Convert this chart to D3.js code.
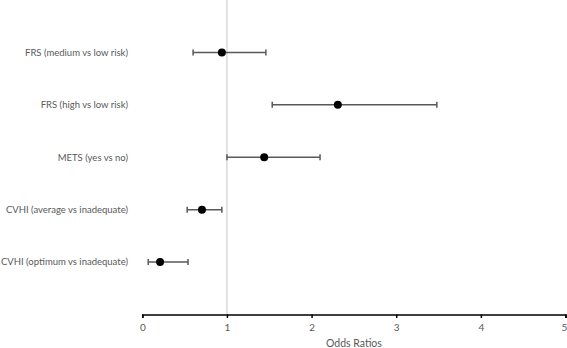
<!DOCTYPE html>
<html>
<head>
<meta charset="utf-8">
<script src="https://cdn.jsdelivr.net/npm/d3@7"></script>
<style>
  body { margin: 0; background: #fff; }
  text { font-family: Lato, "Open Sans", sans-serif; fill: #595959; }
</style>
</head>
<body>
<div id="chart"></div>
<script>
// data
const labels = ["FRS (medium vs low risk)", "FRS (high vs low risk)", "METS (yes vs no)",
                "CVHI (average vs inadequate)", "CVHI (optimum vs inadequate)"];
const oddsRatio = [0.94, 2.31, 1.44, 0.705, 0.21];
const lowerCI = [0.60, 1.535, 1.00, 0.53, 0.07];
const upperCI = [1.46, 3.48, 2.10, 0.94, 0.54];
const xTicks = [0, 1, 2, 3, 4, 5];

const width = 567, height = 348;
const margin = { top: 0, right: 1.5, bottom: 33.5, left: 142.3 };

const svg = d3.select("#chart").append("svg")
    .attr("width", width)
    .attr("height", height);

const x = d3.scaleLinear().domain([0, 5]).range([margin.left, width - margin.right]);
// rows sit at y = 5..1 on a 0..6 scale
const y = d3.scaleLinear().domain([0, 6]).range([height - margin.bottom, margin.top]);

const rows = labels.map((l, i) => ({ label: l, or: oddsRatio[i], lo: lowerCI[i], hi: upperCI[i], pos: 5 - i }));

// reference line at OR = 1
svg.append("line")
    .attr("x1", x(1)).attr("x2", x(1))
    .attr("y1", y(6)).attr("y2", y(0))
    .attr("stroke", "#d9d9d9")
    .attr("stroke-width", 1.5);

// x axis
const axis = svg.append("g")
    .attr("transform", `translate(0,${y(0)})`)
    .call(d3.axisBottom(x).tickValues(xTicks).tickSize(3.5).tickPadding(6).tickFormat(d3.format("d")));
axis.select(".domain").attr("stroke", "#000").attr("stroke-width", 1.5);
axis.selectAll(".tick line").attr("stroke", "#000").attr("stroke-width", 1.5);
axis.selectAll(".tick text").style("font-size", "10px").style("fill", "#595959");
// last label sits against the right edge, like the original
axis.selectAll(".tick text").filter(d => d === 5).attr("dx", "-1.5");

svg.append("text")
    .attr("x", (x(0) + x(5)) / 2)
    .attr("y", 346.5)
    .attr("text-anchor", "middle")
    .style("font-size", "10.5px")
    .text("Odds Ratios");

// category labels
svg.selectAll(".label")
    .data(rows)
    .enter().append("text")
    .attr("class", "label")
    .attr("x", 128)
    .attr("y", d => y(d.pos))
    .attr("dy", "0.35em")
    .attr("text-anchor", "end")
    .style("font-size", "9.5px")
    .text(d => d.label);

// error bars
const bars = svg.selectAll(".bar")
    .data(rows)
    .enter().append("g")
    .attr("class", "bar")
    .attr("stroke", "#595959")
    .attr("stroke-width", 1.5);

bars.append("line")
    .attr("x1", d => x(d.lo)).attr("x2", d => x(d.hi))
    .attr("y1", d => y(d.pos)).attr("y2", d => y(d.pos));
bars.append("line")
    .attr("x1", d => x(d.lo)).attr("x2", d => x(d.lo))
    .attr("y1", d => y(d.pos) - 3).attr("y2", d => y(d.pos) + 3);
bars.append("line")
    .attr("x1", d => x(d.hi)).attr("x2", d => x(d.hi))
    .attr("y1", d => y(d.pos) - 3).attr("y2", d => y(d.pos) + 3);

// points
svg.selectAll(".pt")
    .data(rows)
    .enter().append("circle")
    .attr("class", "pt")
    .attr("cx", d => x(d.or))
    .attr("cy", d => y(d.pos))
    .attr("r", 4)
    .attr("fill", "#000");
</script>
</body>
</html>
